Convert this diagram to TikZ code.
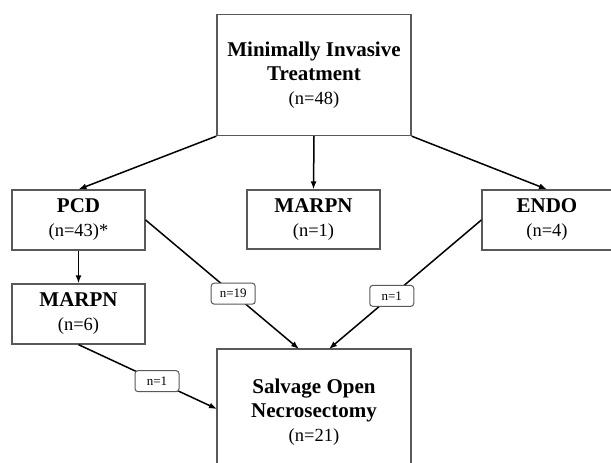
\documentclass[tikz,border=0pt]{standalone}
\usepackage{fontspec}
\setmainfont{Liberation Serif}
\usetikzlibrary{arrows.meta}
\newcommand{\cnt}[1]{\\{\mdseries\fontsize{18.5}{23}\selectfont #1}}
\begin{document}
\begin{tikzpicture}[x=1pt,y=-1pt,
  box/.style={draw=black!65, line width=1.3pt, fill=white, inner sep=0pt, align=center,
    font=\fontsize{21}{24}\selectfont\bfseries},
  arr/.style={line width=1.5pt, -{Latex[length=8pt,width=6pt]}},
  lab/.style={draw=black!65, line width=1pt, fill=white, rounded corners=3pt,
    minimum width=44pt, minimum height=21pt, inner sep=0pt, font=\fontsize{13}{15}\selectfont}]
\useasboundingbox (0,0) rectangle (611,463);
\clip (0,0) rectangle (611,463);
\node[box, minimum width=194pt, minimum height=121pt] (top) at (314,75)
  {Minimally Invasive\\Treatment\cnt{(n=48)}};
\node[box, minimum width=133pt, minimum height=60pt] (pcd) at (78.5,220) {PCD\cnt{(n=43)*}};
\node[box, minimum width=133pt, minimum height=59pt] (mid) at (313.5,219.5) {MARPN\cnt{(n=1)}};
\node[box, minimum width=130pt, minimum height=60pt] (endo) at (547,220) {ENDO\cnt{(n=4)}};
\node[box, minimum width=133pt, minimum height=60pt] (mar) at (78.5,314) {MARPN\cnt{(n=6)}};
\node[box, minimum width=194pt, minimum height=126pt] (sal) at (314,412)
  {Salvage Open\\Necrosectomy\cnt{(n=21)}};
\coordinate (s1) at (299,349);
\coordinate (s2) at (329,349);
\coordinate (s3) at (217,409);
\draw[arr] (top.south west) -- (pcd.north);
\draw[arr] (top.south) -- (mid.north);
\draw[arr] (top.south east) -- (endo.north);
\draw[arr] (pcd.south) -- (mar.north);
\draw[arr] (pcd.east) -- (s1) node[lab, pos=0.571] {n=19};
\draw[arr] (endo.west) -- (s2) node[lab, pos=0.588] {n=1};
\draw[arr] (mar.south) -- (s3) node[lab, pos=0.567] {n=1};
\end{tikzpicture}
\end{document}
